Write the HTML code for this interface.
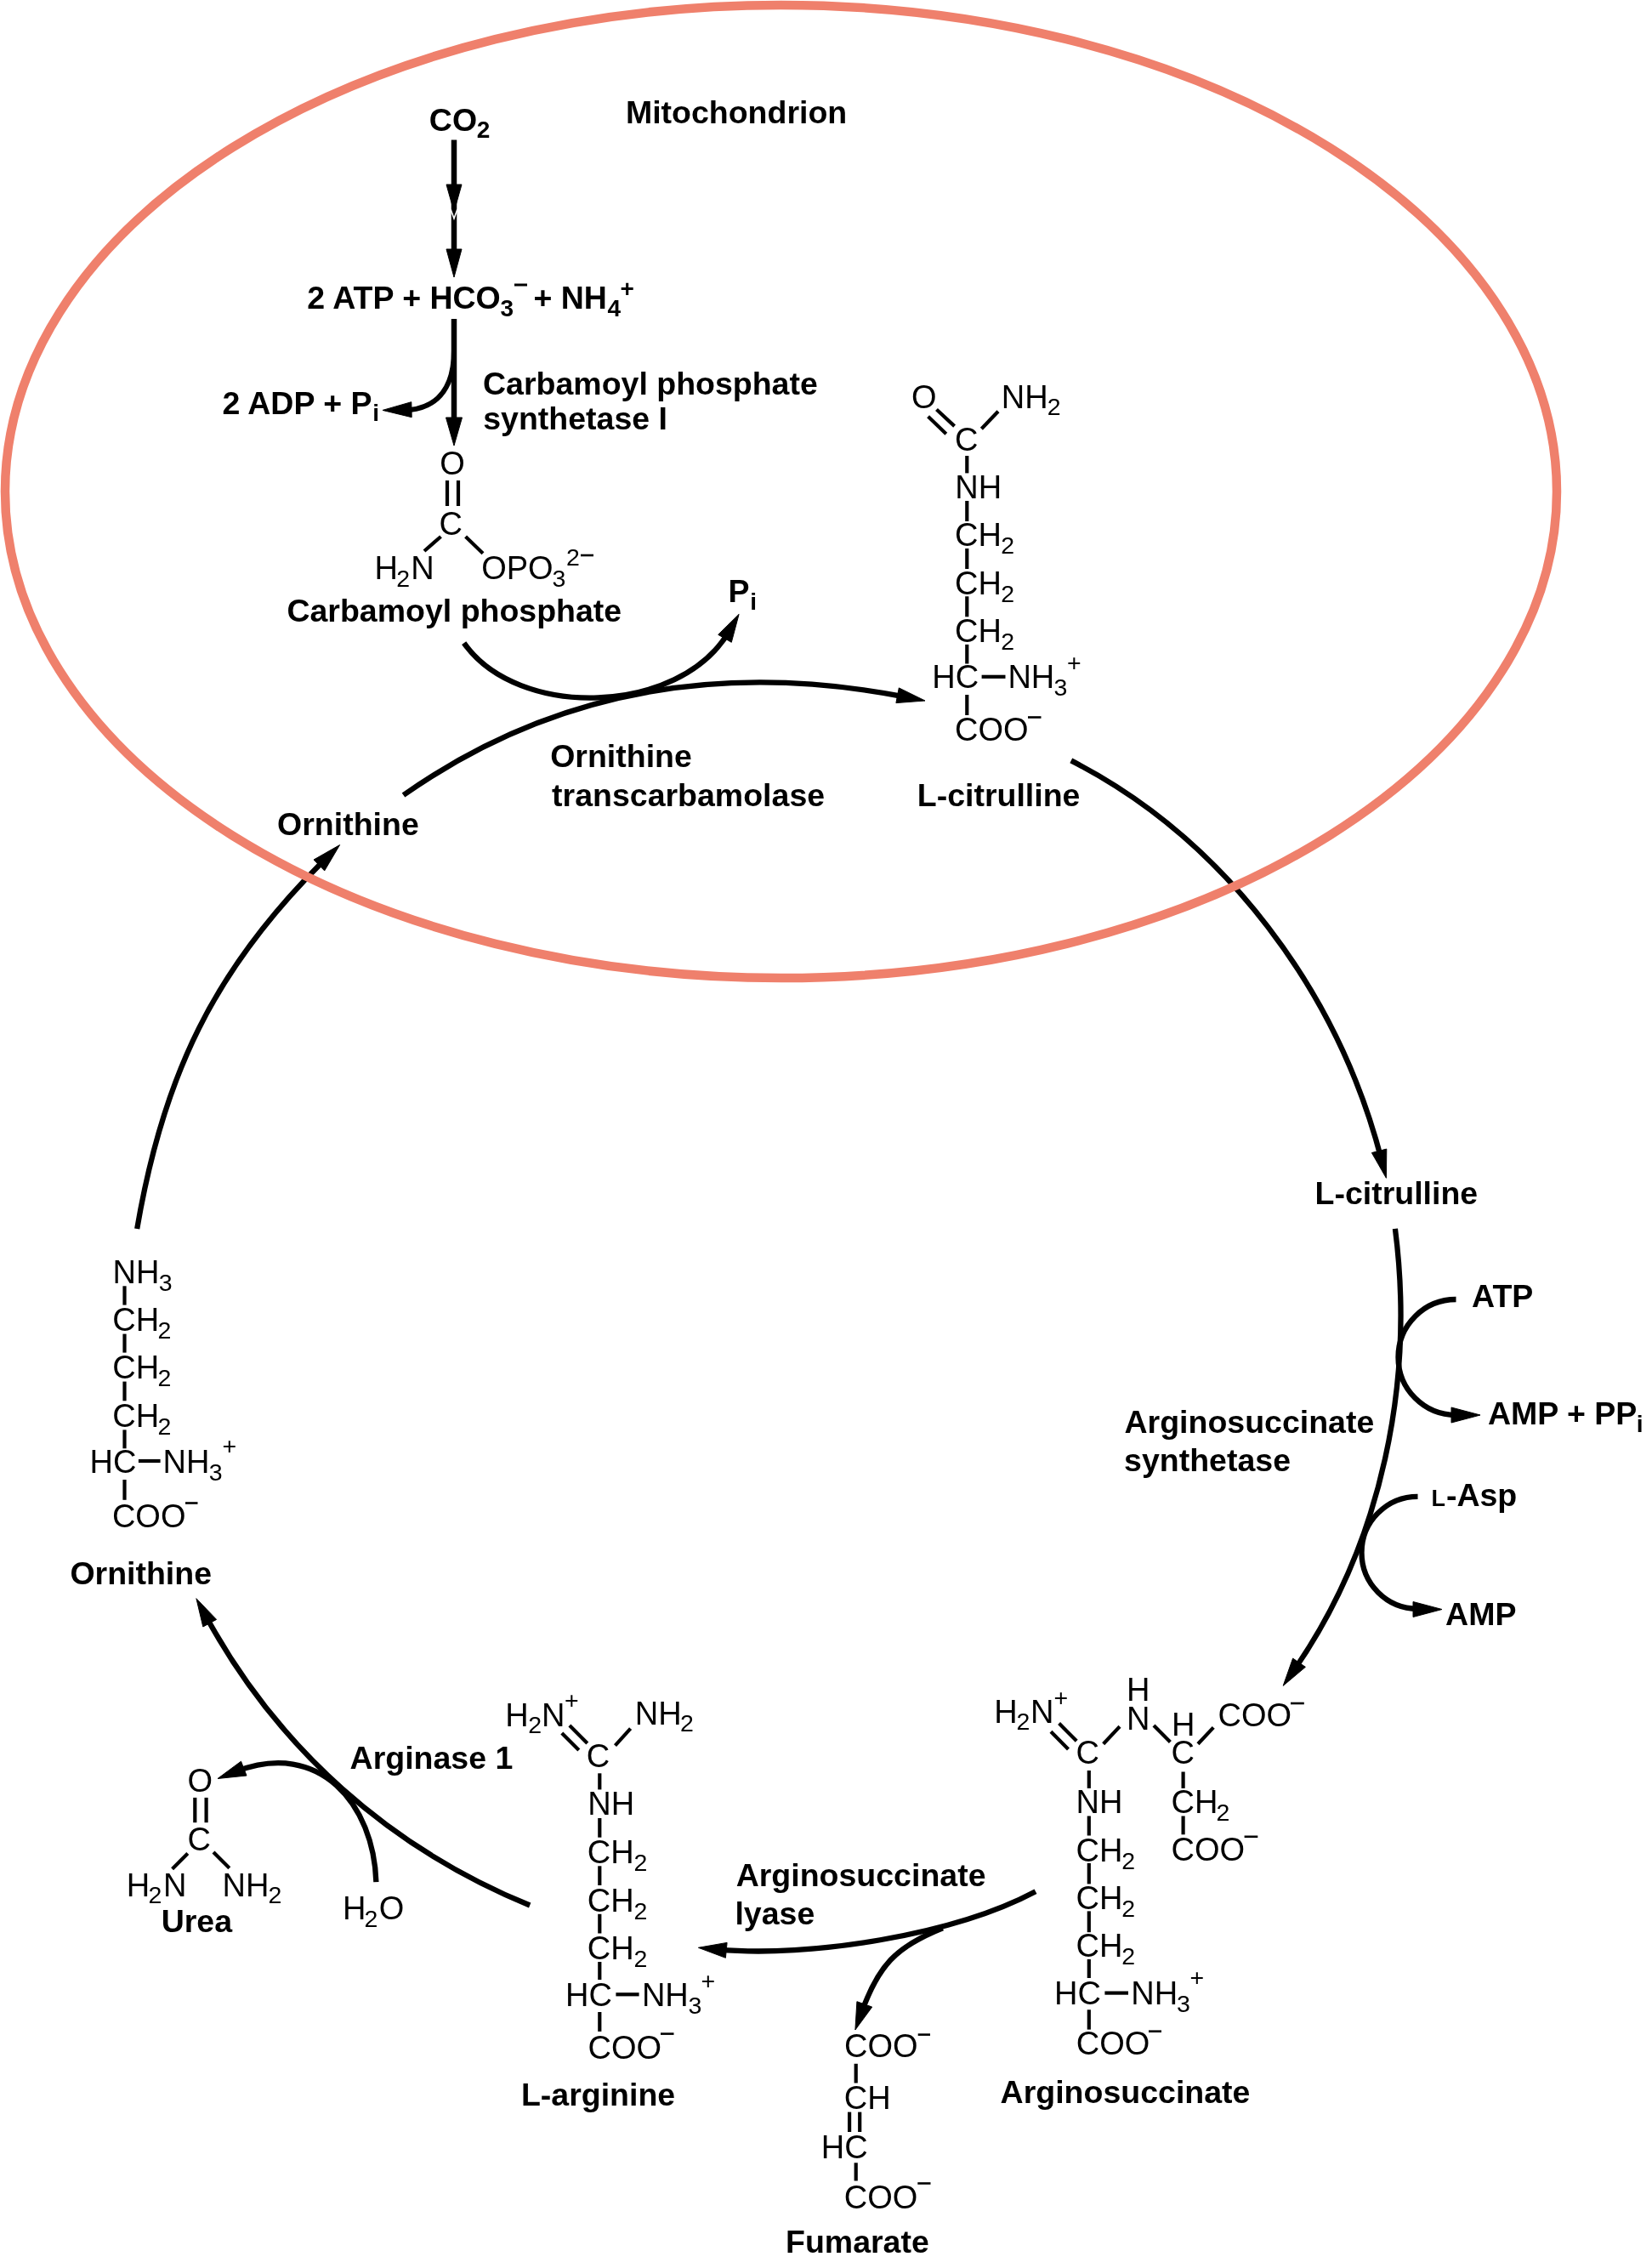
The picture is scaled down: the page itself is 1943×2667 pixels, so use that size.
<!DOCTYPE html>
<html><head><meta charset="utf-8"><style>
html,body{margin:0;padding:0;background:#fff;}
svg{display:block;will-change:transform;}
text{font-family:"Liberation Sans",sans-serif;fill:#000;}
</style></head><body>
<svg width="1943" height="2667" viewBox="0 0 1943 2667" stroke="#000" fill="#000">
<g stroke="none">
</g>
<line x1="534.0" y1="164.5" x2="534.0" y2="300.0" stroke-width="6.5"/>
<path d="M534.0,249.0 L525.0,217.0 L543.0,217.0 Z"/>
<path d="M530,246 L534,257 L538,246" fill="none" stroke="#fff" stroke-width="1.6"/>
<path d="M534.0,326.0 L525.0,293.0 L543.0,293.0 Z"/>
<line x1="534.0" y1="375.0" x2="534.0" y2="500.0" stroke-width="6.5"/>
<path d="M534.0,524.0 L524.5,491.0 L543.5,491.0 Z"/>
<path d="M534,412 C534,452 518,478 482,482" fill="none" stroke-width="6"/>
<path d="M450.0,482.4 L483.8,472.7 L484.2,490.7 Z"/>
<path d="M545.7,756.1 C608.9,846.5 799.5,841.8 857.5,742.3" fill="none" stroke-width="6.3"/>
<path d="M869.1,722.3 L860.3,755.3 L844.7,746.3 Z"/>
<path d="M474.5,935.0 C653.2,809.3 853.2,778.5 1065.3,819.6" fill="none" stroke-width="6.3"/>
<path d="M1088.0,824.0 L1053.9,826.6 L1057.3,808.9 Z"/>
<path d="M1259.8,894.4 C1441.9,987.6 1573.6,1166.9 1624.6,1362.9" fill="none" stroke-width="6.3"/>
<path d="M1630.4,1385.3 L1613.4,1355.6 L1630.8,1351.1 Z"/>
<path d="M1640.9,1444.8 C1664.0,1624.1 1625.8,1814.0 1522.4,1963.3" fill="none" stroke-width="6.3"/>
<path d="M1509.2,1982.3 L1520.6,1950.1 L1535.4,1960.3 Z"/>
<path d="M1712.5,1528 C1674.9,1528 1644.5,1558.4 1644.5,1596 C1644.5,1633.6 1674.9,1664 1712.5,1664" fill="none" stroke-width="6.3"/>
<path d="M1741.0,1664.0 L1707.0,1673.0 L1707.0,1655.0 Z"/>
<path d="M1667.5,1759.8 C1631,1759.8 1601.5,1789.3 1601.5,1825.8 C1601.5,1862.3 1631,1891.8 1667.5,1891.8" fill="none" stroke-width="6.3"/>
<path d="M1696.0,1892.5 L1662.0,1901.5 L1662.0,1883.5 Z"/>
<path d="M1218.0,2224.2 C1121.7,2275.4 951.5,2302.4 844.4,2292.4" fill="none" stroke-width="6.3"/>
<path d="M821.4,2290.3 L855.1,2284.4 L853.4,2302.3 Z"/>
<path d="M1108.8,2267.2 C1052.9,2289.4 1032.9,2312.3 1013.5,2365.9" fill="none" stroke-width="6.3"/>
<path d="M1005.9,2387.0 L1007.9,2353.7 L1025.7,2360.1 Z"/>
<path d="M623.2,2240.5 C458.2,2173.1 326.6,2055.6 241.9,1900.0" fill="none" stroke-width="6.3"/>
<path d="M230.9,1879.7 L254.6,1904.4 L238.8,1913.0 Z"/>
<path d="M442.4,2213.1 C439.7,2121.6 376.0,2045.1 277.5,2083.2" fill="none" stroke-width="6.3"/>
<path d="M256.0,2091.5 L283.5,2071.2 L290.0,2088.0 Z"/>
<path d="M161.2,1445.0 C191.7,1265.7 251.4,1139.3 382.6,1010.3" fill="none" stroke-width="6.3"/>
<path d="M399.6,993.6 L381.7,1023.9 L369.0,1011.0 Z"/>
<text stroke="none" x="735.9" y="145.0" font-weight="bold" font-size="37.5">Mitochondrion</text>
<text stroke="none" x="504.8" y="153.6" font-weight="bold" font-size="37.5">CO</text>
<text stroke="none" x="560.7" y="161.7" font-weight="bold" font-size="28.0">2</text>
<text stroke="none" x="361.3" y="363.0" font-weight="bold" font-size="37.5">2 ATP + HCO</text>
<text stroke="none" x="588.4" y="371.5" font-weight="bold" font-size="28.0">3</text>
<rect stroke="none" x="605.0" y="333.5" width="15.0" height="3"/>
<text stroke="none" x="627.4" y="363.0" font-weight="bold" font-size="37.5">+ NH</text>
<text stroke="none" x="714.6" y="371.5" font-weight="bold" font-size="28.0">4</text>
<text stroke="none" x="729.4" y="349.0" font-weight="bold" font-size="28.0">+</text>
<text stroke="none" x="261.4" y="486.5" font-weight="bold" font-size="37.5">2 ADP + P</text>
<text stroke="none" x="438.2" y="495.0" font-weight="bold" font-size="28.0">i</text>
<text stroke="none" x="568.0" y="463.7" font-weight="bold" font-size="37.5">Carbamoyl phosphate</text>
<text stroke="none" x="568.2" y="504.5" font-weight="bold" font-size="37.5">synthetase I</text>
<text stroke="none" x="337.4" y="730.7" font-weight="bold" font-size="37.5">Carbamoyl phosphate</text>
<text stroke="none" x="856.5" y="708.4" font-weight="bold" font-size="37.5">P</text>
<text stroke="none" x="882.2" y="717.0" font-weight="bold" font-size="28.0">i</text>
<text stroke="none" x="647.2" y="902.0" font-weight="bold" font-size="37.5">Ornithine</text>
<text stroke="none" x="649.1" y="948.0" font-weight="bold" font-size="37.5">transcarbamolase</text>
<text stroke="none" x="1078.8" y="948.3" font-weight="bold" font-size="37.5">L-citrulline</text>
<text stroke="none" x="326.1" y="982.0" font-weight="bold" font-size="37.5">Ornithine</text>
<text stroke="none" x="1546.5" y="1415.7" font-weight="bold" font-size="37.5">L-citrulline</text>
<text stroke="none" x="1731.1" y="1537.0" font-weight="bold" font-size="37.5">ATP</text>
<text stroke="none" x="1749.9" y="1675.2" font-weight="bold" font-size="37.5">AMP + PP</text>
<text stroke="none" x="1924.8" y="1684.0" font-weight="bold" font-size="28.0">i</text>
<text stroke="none" x="1322.5" y="1685.0" font-weight="bold" font-size="37.5">Arginosuccinate</text>
<text stroke="none" x="1322.1" y="1729.7" font-weight="bold" font-size="37.5">synthetase</text>
<text stroke="none" x="1683.6" y="1770.6" font-weight="bold" font-size="27">L</text>
<text stroke="none" x="1700.9" y="1770.6" font-weight="bold" font-size="37.5">-Asp</text>
<text stroke="none" x="1700.1" y="1910.7" font-weight="bold" font-size="37.5">AMP</text>
<text stroke="none" x="82.4" y="1862.5" font-weight="bold" font-size="37.5">Ornithine</text>
<text stroke="none" x="411.6" y="2079.7" font-weight="bold" font-size="37.5">Arginase 1</text>
<text stroke="none" x="189.7" y="2271.9" font-weight="bold" font-size="37.5">Urea</text>
<text stroke="none" x="612.9" y="2475.6" font-weight="bold" font-size="37.5">L-arginine</text>
<text stroke="none" x="865.7" y="2217.5" font-weight="bold" font-size="37.5">Arginosuccinate</text>
<text stroke="none" x="864.4" y="2262.8" font-weight="bold" font-size="37.5">lyase</text>
<text stroke="none" x="1176.6" y="2472.8" font-weight="bold" font-size="37.5">Arginosuccinate</text>
<text stroke="none" x="924.0" y="2649.3" font-weight="bold" font-size="37.5">Fumarate</text>
<text stroke="none" x="517.2" y="558.0" font-weight="normal" font-size="38.0">O</text>
<line x1="526.0" y1="565.0" x2="526.0" y2="595.0" stroke-width="4.2"/>
<line x1="539.0" y1="565.0" x2="539.0" y2="595.0" stroke-width="4.2"/>
<text stroke="none" x="516.6" y="629.0" font-weight="normal" font-size="38.0">C</text>
<line x1="518.5" y1="631.0" x2="499.0" y2="648.0" stroke-width="4.2"/>
<line x1="547.6" y1="631.0" x2="568.0" y2="650.7" stroke-width="4.2"/>
<text stroke="none" x="440.4" y="681.0" font-weight="normal" font-size="38.0">H</text>
<text stroke="none" x="466.3" y="689.5" font-weight="normal" font-size="28.5">2</text>
<text stroke="none" x="483.3" y="681.0" font-weight="normal" font-size="38.0">N</text>
<text stroke="none" x="566.2" y="681.0" font-weight="normal" font-size="38.0">OPO</text>
<text stroke="none" x="649.4" y="689.5" font-weight="normal" font-size="28.5">3</text>
<text stroke="none" x="666.1" y="664.8" font-weight="normal" font-size="28.5">2</text>
<rect stroke="none" x="683.0" y="651.7" width="15.0" height="2.6"/>
<text stroke="none" x="1072.1" y="480.0" font-weight="normal" font-size="38.0">O</text>
<text stroke="none" x="1177.8" y="479.8" font-weight="normal" font-size="38.0">NH</text>
<text stroke="none" x="1231.8" y="488.2" font-weight="normal" font-size="28.5">2</text>
<line x1="1091.6" y1="489.8" x2="1112.8" y2="510.2" stroke-width="4.2"/>
<line x1="1101.5" y1="481.5" x2="1122.6" y2="501.1" stroke-width="4.2"/>
<text stroke="none" x="1123.1" y="529.5" font-weight="normal" font-size="38.0">C</text>
<line x1="1154.4" y1="504.2" x2="1174.0" y2="483.7" stroke-width="4.2"/>
<line x1="1137.3" y1="536.0" x2="1137.3" y2="556.4" stroke-width="4.2"/>
<text stroke="none" x="1123.3" y="585.9" font-weight="normal" font-size="38.0">NH</text>
<line x1="1137.3" y1="589.0" x2="1137.3" y2="613.0" stroke-width="4.2"/>
<text stroke="none" x="1123.1" y="641.9" font-weight="normal" font-size="38.0">CH</text>
<text stroke="none" x="1177.2" y="650.9" font-weight="normal" font-size="28.5">2</text>
<text stroke="none" x="1123.1" y="698.6" font-weight="normal" font-size="38.0">CH</text>
<text stroke="none" x="1177.2" y="707.6" font-weight="normal" font-size="28.5">2</text>
<text stroke="none" x="1123.1" y="754.8" font-weight="normal" font-size="38.0">CH</text>
<text stroke="none" x="1177.2" y="763.8" font-weight="normal" font-size="28.5">2</text>
<line x1="1137.3" y1="645.0" x2="1137.3" y2="669.0" stroke-width="4.2"/>
<line x1="1137.3" y1="701.3" x2="1137.3" y2="725.3" stroke-width="4.2"/>
<line x1="1137.3" y1="757.9" x2="1137.3" y2="780.5" stroke-width="4.2"/>
<text stroke="none" x="1096.2" y="809.2" font-weight="normal" font-size="38.0">HC</text>
<line x1="1154.6" y1="795.8" x2="1182.5" y2="795.8" stroke-width="4.2"/>
<text stroke="none" x="1185.4" y="809.2" font-weight="normal" font-size="38.0">NH</text>
<text stroke="none" x="1239.4" y="817.8" font-weight="normal" font-size="28.5">3</text>
<text stroke="none" x="1255.1" y="788.5" font-weight="normal" font-size="28.5">+</text>
<line x1="1137.3" y1="817.0" x2="1137.3" y2="841.0" stroke-width="4.2"/>
<text stroke="none" x="1123.1" y="871.2" font-weight="normal" font-size="38.0">COO</text>
<rect stroke="none" x="1209.0" y="842.2" width="15.5" height="2.6"/>
<text stroke="none" x="132.6" y="1509.3" font-weight="normal" font-size="38.0">NH</text>
<text stroke="none" x="186.8" y="1518.0" font-weight="normal" font-size="28.5">3</text>
<line x1="146.5" y1="1512.3" x2="146.5" y2="1534.6" stroke-width="4.2"/>
<text stroke="none" x="132.3" y="1565.3" font-weight="normal" font-size="38.0">CH</text>
<text stroke="none" x="185.6" y="1574.3" font-weight="normal" font-size="28.5">2</text>
<text stroke="none" x="132.3" y="1621.3" font-weight="normal" font-size="38.0">CH</text>
<text stroke="none" x="185.6" y="1630.3" font-weight="normal" font-size="28.5">2</text>
<text stroke="none" x="132.3" y="1677.9" font-weight="normal" font-size="38.0">CH</text>
<text stroke="none" x="185.6" y="1686.9" font-weight="normal" font-size="28.5">2</text>
<line x1="146.5" y1="1568.6" x2="146.5" y2="1590.6" stroke-width="4.2"/>
<line x1="146.5" y1="1624.6" x2="146.5" y2="1647.3" stroke-width="4.2"/>
<line x1="146.5" y1="1681.4" x2="146.5" y2="1703.3" stroke-width="4.2"/>
<text stroke="none" x="105.6" y="1732.4" font-weight="normal" font-size="38.0">HC</text>
<line x1="162.9" y1="1718.0" x2="188.6" y2="1718.0" stroke-width="4.2"/>
<text stroke="none" x="191.6" y="1732.4" font-weight="normal" font-size="38.0">NH</text>
<text stroke="none" x="245.8" y="1741.0" font-weight="normal" font-size="28.5">3</text>
<text stroke="none" x="261.4" y="1710.4" font-weight="normal" font-size="28.5">+</text>
<line x1="146.5" y1="1740.0" x2="146.5" y2="1763.8" stroke-width="4.2"/>
<text stroke="none" x="131.9" y="1795.5" font-weight="normal" font-size="38.0">COO</text>
<rect stroke="none" x="218.0" y="1766.2" width="14.5" height="2.6"/>
<text stroke="none" x="220.5" y="2107.3" font-weight="normal" font-size="38.0">O</text>
<line x1="229.3" y1="2113.9" x2="229.3" y2="2143.2" stroke-width="4.2"/>
<line x1="242.6" y1="2113.9" x2="242.6" y2="2143.2" stroke-width="4.2"/>
<text stroke="none" x="220.4" y="2176.0" font-weight="normal" font-size="38.0">C</text>
<line x1="220.8" y1="2179.6" x2="202.6" y2="2197.7" stroke-width="4.2"/>
<line x1="251.0" y1="2178.0" x2="269.8" y2="2196.8" stroke-width="4.2"/>
<text stroke="none" x="148.7" y="2229.5" font-weight="normal" font-size="38.0">H</text>
<text stroke="none" x="174.6" y="2238.0" font-weight="normal" font-size="28.5">2</text>
<text stroke="none" x="192.0" y="2229.5" font-weight="normal" font-size="38.0">N</text>
<text stroke="none" x="261.6" y="2229.5" font-weight="normal" font-size="38.0">NH</text>
<text stroke="none" x="315.4" y="2238.0" font-weight="normal" font-size="28.5">2</text>
<text stroke="none" x="402.9" y="2257.3" font-weight="normal" font-size="38.0">H</text>
<text stroke="none" x="428.6" y="2266.0" font-weight="normal" font-size="28.5">2</text>
<text stroke="none" x="445.8" y="2257.3" font-weight="normal" font-size="38.0">O</text>
<text stroke="none" x="594.2" y="2030.0" font-weight="normal" font-size="38.0">H</text>
<text stroke="none" x="621.3" y="2038.0" font-weight="normal" font-size="28.5">2</text>
<text stroke="none" x="636.9" y="2030.0" font-weight="normal" font-size="38.0">N</text>
<text stroke="none" x="663.9" y="2009.0" font-weight="normal" font-size="28.5">+</text>
<line x1="660.8" y1="2038.1" x2="680.8" y2="2058.1" stroke-width="4.2"/>
<line x1="669.9" y1="2029.0" x2="690.8" y2="2049.9" stroke-width="4.2"/>
<text stroke="none" x="689.8" y="2078.0" font-weight="normal" font-size="38.0">C</text>
<line x1="723.5" y1="2052.6" x2="741.6" y2="2032.7" stroke-width="4.2"/>
<text stroke="none" x="746.7" y="2028.1" font-weight="normal" font-size="38.0">NH</text>
<text stroke="none" x="800.1" y="2036.3" font-weight="normal" font-size="28.5">2</text>
<line x1="705.3" y1="2085.3" x2="705.3" y2="2104.4" stroke-width="4.2"/>
<text stroke="none" x="691.3" y="2134.3" font-weight="normal" font-size="38.0">NH</text>
<line x1="705.3" y1="2138.0" x2="705.3" y2="2160.7" stroke-width="4.2"/>
<text stroke="none" x="690.7" y="2190.6" font-weight="normal" font-size="38.0">CH</text>
<text stroke="none" x="745.6" y="2199.6" font-weight="normal" font-size="28.5">2</text>
<text stroke="none" x="690.7" y="2247.6" font-weight="normal" font-size="38.0">CH</text>
<text stroke="none" x="745.6" y="2256.6" font-weight="normal" font-size="28.5">2</text>
<text stroke="none" x="690.7" y="2303.9" font-weight="normal" font-size="38.0">CH</text>
<text stroke="none" x="745.6" y="2312.9" font-weight="normal" font-size="28.5">2</text>
<line x1="705.3" y1="2194.3" x2="705.3" y2="2217.0" stroke-width="4.2"/>
<line x1="705.3" y1="2250.8" x2="705.3" y2="2273.5" stroke-width="4.2"/>
<line x1="705.3" y1="2307.0" x2="705.3" y2="2328.0" stroke-width="4.2"/>
<text stroke="none" x="665.0" y="2359.4" font-weight="normal" font-size="38.0">HC</text>
<line x1="724.4" y1="2345.3" x2="751.6" y2="2345.3" stroke-width="4.2"/>
<text stroke="none" x="754.9" y="2359.4" font-weight="normal" font-size="38.0">NH</text>
<text stroke="none" x="809.5" y="2368.0" font-weight="normal" font-size="28.5">3</text>
<text stroke="none" x="824.6" y="2339.0" font-weight="normal" font-size="28.5">+</text>
<line x1="705.3" y1="2366.0" x2="705.3" y2="2388.9" stroke-width="4.2"/>
<text stroke="none" x="691.6" y="2420.7" font-weight="normal" font-size="38.0">COO</text>
<rect stroke="none" x="777.0" y="2390.3" width="15.5" height="2.6"/>
<text stroke="none" x="1169.2" y="2025.9" font-weight="normal" font-size="38.0">H</text>
<text stroke="none" x="1195.6" y="2034.0" font-weight="normal" font-size="28.5">2</text>
<text stroke="none" x="1211.9" y="2025.9" font-weight="normal" font-size="38.0">N</text>
<text stroke="none" x="1239.4" y="2005.5" font-weight="normal" font-size="28.5">+</text>
<line x1="1236.0" y1="2036.3" x2="1256.5" y2="2056.9" stroke-width="4.2"/>
<line x1="1245.6" y1="2026.6" x2="1266.2" y2="2047.2" stroke-width="4.2"/>
<text stroke="none" x="1265.5" y="2074.3" font-weight="normal" font-size="38.0">C</text>
<line x1="1297.7" y1="2050.8" x2="1317.0" y2="2030.2" stroke-width="4.2"/>
<text stroke="none" x="1324.9" y="2000.0" font-weight="normal" font-size="38.0">H</text>
<text stroke="none" x="1324.9" y="2033.8" font-weight="normal" font-size="38.0">N</text>
<line x1="1357.0" y1="2029.0" x2="1376.4" y2="2048.4" stroke-width="4.2"/>
<text stroke="none" x="1377.9" y="2041.0" font-weight="normal" font-size="38.0">H</text>
<text stroke="none" x="1377.6" y="2074.3" font-weight="normal" font-size="38.0">C</text>
<line x1="1409.0" y1="2050.8" x2="1427.2" y2="2031.4" stroke-width="4.2"/>
<text stroke="none" x="1432.6" y="2030.2" font-weight="normal" font-size="38.0">COO</text>
<rect stroke="none" x="1518.0" y="2001.7" width="15.8" height="2.6"/>
<line x1="1280.8" y1="2082.0" x2="1280.8" y2="2102.9" stroke-width="4.2"/>
<text stroke="none" x="1265.5" y="2132.4" font-weight="normal" font-size="38.0">NH</text>
<line x1="1280.8" y1="2135.5" x2="1280.8" y2="2158.5" stroke-width="4.2"/>
<text stroke="none" x="1265.5" y="2188.8" font-weight="normal" font-size="38.0">CH</text>
<text stroke="none" x="1319.3" y="2197.8" font-weight="normal" font-size="28.5">2</text>
<text stroke="none" x="1265.5" y="2244.6" font-weight="normal" font-size="38.0">CH</text>
<text stroke="none" x="1319.3" y="2253.6" font-weight="normal" font-size="28.5">2</text>
<text stroke="none" x="1265.5" y="2300.8" font-weight="normal" font-size="38.0">CH</text>
<text stroke="none" x="1319.3" y="2309.8" font-weight="normal" font-size="28.5">2</text>
<line x1="1280.8" y1="2191.0" x2="1280.8" y2="2215.4" stroke-width="4.2"/>
<line x1="1280.8" y1="2247.4" x2="1280.8" y2="2272.2" stroke-width="4.2"/>
<line x1="1280.8" y1="2304.0" x2="1280.8" y2="2326.0" stroke-width="4.2"/>
<text stroke="none" x="1240.1" y="2357.0" font-weight="normal" font-size="38.0">HC</text>
<line x1="1299.4" y1="2343.6" x2="1327.0" y2="2343.6" stroke-width="4.2"/>
<text stroke="none" x="1330.2" y="2357.0" font-weight="normal" font-size="38.0">NH</text>
<text stroke="none" x="1383.9" y="2366.0" font-weight="normal" font-size="28.5">3</text>
<text stroke="none" x="1399.6" y="2335.0" font-weight="normal" font-size="28.5">+</text>
<line x1="1280.8" y1="2363.3" x2="1280.8" y2="2386.6" stroke-width="4.2"/>
<text stroke="none" x="1265.7" y="2415.7" font-weight="normal" font-size="38.0">COO</text>
<rect stroke="none" x="1351.0" y="2387.4" width="15.0" height="2.6"/>
<line x1="1391.6" y1="2083.5" x2="1391.6" y2="2102.9" stroke-width="4.2"/>
<text stroke="none" x="1377.6" y="2132.4" font-weight="normal" font-size="38.0">CH</text>
<text stroke="none" x="1430.6" y="2141.0" font-weight="normal" font-size="28.5">2</text>
<line x1="1391.6" y1="2135.5" x2="1391.6" y2="2157.3" stroke-width="4.2"/>
<text stroke="none" x="1377.6" y="2188.3" font-weight="normal" font-size="38.0">COO</text>
<rect stroke="none" x="1463.6" y="2158.5" width="15.7" height="2.6"/>
<text stroke="none" x="993.1" y="2419.2" font-weight="normal" font-size="38.0">COO</text>
<rect stroke="none" x="1079.7" y="2391.3" width="14.3" height="2.6"/>
<line x1="1006.7" y1="2426.8" x2="1006.7" y2="2449.5" stroke-width="4.2"/>
<text stroke="none" x="992.7" y="2479.8" font-weight="normal" font-size="38.0">CH</text>
<line x1="999.1" y1="2483.6" x2="999.1" y2="2507.0" stroke-width="4.2"/>
<line x1="1011.2" y1="2483.6" x2="1011.2" y2="2507.0" stroke-width="4.2"/>
<text stroke="none" x="965.8" y="2537.7" font-weight="normal" font-size="38.0">HC</text>
<line x1="1006.7" y1="2543.3" x2="1006.7" y2="2564.5" stroke-width="4.2"/>
<text stroke="none" x="992.7" y="2596.5" font-weight="normal" font-size="38.0">COO</text>
<rect stroke="none" x="1079.3" y="2566.2" width="15.2" height="2.6"/>
<ellipse cx="918.5" cy="578" rx="912.5" ry="572" fill="none" stroke="#EF806C" stroke-width="10.5"/>
</svg></body></html>
